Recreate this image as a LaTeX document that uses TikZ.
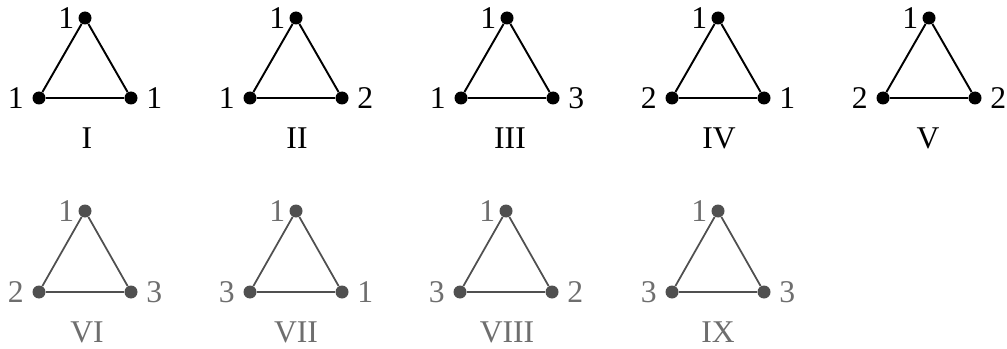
\documentclass[tikz,border=0pt]{standalone}
\usepackage{fontspec}
\setmainfont{Liberation Serif}
\definecolor{Faded}{HTML}{505050}
\definecolor{FadedText}{HTML}{6E6E6E}

\begin{document}
\begin{tikzpicture}[x=0.2cm,y=0.2cm,
  dot/.style={circle,fill=black,inner sep=0pt,minimum size=0.26cm},
  fdot/.style={dot,fill=Faded},
  every node/.style={font=\fontsize{18}{21}\selectfont},
  every label/.style={inner sep=0pt},label distance=4.6pt]
\useasboundingbox (0,0) rectangle (100.7,34.8);
% top row
\node[dot,label={[label distance=2pt]left:1}] (t1) at (8.5,33) {};
\node[dot,label=left:1] (l1) at (3.9,25) {};
\node[dot,label=right:1] (r1) at (13.1,25) {};
\node (n1) at (8.7,21) {I};
\node[dot,label={[label distance=2pt]left:1}] (t2) at (29.6,33) {};
\node[dot,label=left:1] (l2) at (25,25) {};
\node[dot,label=right:2] (r2) at (34.2,25) {};
\node (n2) at (29.7,21) {II};
\node[dot,label={[label distance=2pt]left:1}] (t3) at (50.7,33) {};
\node[dot,label=left:1] (l3) at (46.1,25) {};
\node[dot,label=right:3] (r3) at (55.3,25) {};
\node (n3) at (51,21) {III};
\node[dot,label={[label distance=2pt]left:1}] (t4) at (71.8,33) {};
\node[dot,label=left:2] (l4) at (67.2,25) {};
\node[dot,label=right:1] (r4) at (76.4,25) {};
\node (n4) at (71.9,21) {IV};
\node[dot,label={[label distance=2pt]left:1}] (t5) at (92.9,33) {};
\node[dot,label=left:2] (l5) at (88.3,25) {};
\node[dot,label=right:2] (r5) at (97.5,25) {};
\node (n5) at (92.8,21) {V};
\draw[line width=1.1pt] (t1)--(l1)--(r1)--(t1) (t2)--(l2)--(r2)--(t2)
 (t3)--(l3)--(r3)--(t3) (t4)--(l4)--(r4)--(t4) (t5)--(l5)--(r5)--(t5);
% bottom row
\begin{scope}[every label/.append style={text=FadedText}]
\node[fdot,label={[label distance=2pt]left:1}] (t6) at (8.5,13.7) {};
\node[fdot,label=left:2] (l6) at (3.9,5.6) {};
\node[fdot,label=right:3] (r6) at (13.1,5.6) {};
\node[text=FadedText] (n6) at (8.7,1.6) {VI};
\node[fdot,label={[label distance=2pt]left:1}] (t7) at (29.6,13.7) {};
\node[fdot,label=left:3] (l7) at (25,5.6) {};
\node[fdot,label=right:1] (r7) at (34.2,5.6) {};
\node[text=FadedText] (n7) at (29.6,1.6) {VII};
\node[fdot,label={[label distance=2pt]left:1}] (t8) at (50.6,13.7) {};
\node[fdot,label=left:3] (l8) at (46,5.6) {};
\node[fdot,label=right:2] (r8) at (55.2,5.6) {};
\node[text=FadedText] (n8) at (50.7,1.6) {VIII};
\node[fdot,label={[label distance=2pt]left:1}] (t9) at (71.8,13.7) {};
\node[fdot,label=left:3] (l9) at (67.2,5.6) {};
\node[fdot,label=right:3] (r9) at (76.4,5.6) {};
\node[text=FadedText] (n9) at (71.8,1.6) {IX};
\draw[Faded,line width=1pt] (t6)--(l6)--(r6)--(t6) (t7)--(l7)--(r7)--(t7)
 (t8)--(l8)--(r8)--(t8) (t9)--(l9)--(r9)--(t9);
\end{scope}
\end{tikzpicture}
\end{document}
